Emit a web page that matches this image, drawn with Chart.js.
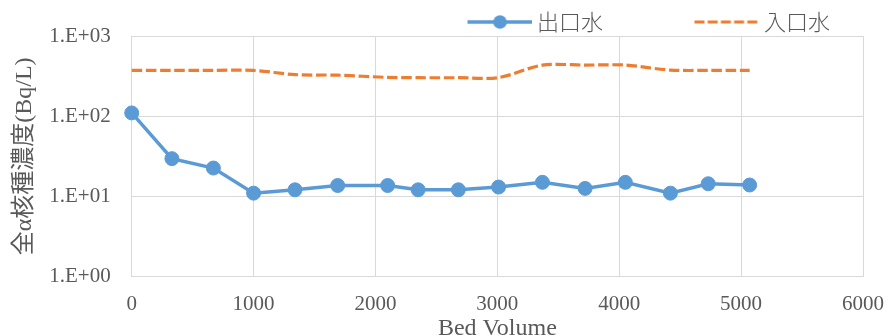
<!DOCTYPE html>
<html>
<head>
<meta charset="utf-8">
<style>
  html, body { margin: 0; padding: 0; background: #ffffff; }
  #wrap { width: 886px; height: 336px; }
</style>
<script src="https://cdn.jsdelivr.net/npm/chart.js@4/dist/chart.umd.min.js"></script>
</head>
<body>
<div id="wrap"><canvas id="c" width="886" height="336"></canvas></div>
<script>
// Bed volume passed through the column at each sampling
const bedVolume = [0, 330, 670, 1000, 1340, 1690, 2100, 2350, 2680, 3010, 3370, 3720, 4050, 4420, 4730, 5070];
// Gross alpha concentration (Bq/L)
const outletWater = [110, 29.6, 22.6, 11.0, 12.1, 13.7, 13.7, 12.1, 12.1, 13.1, 15.0, 12.6, 15.0, 11.0, 14.4, 13.9];
const inletWater  = [373, 373, 373, 373, 330, 325, 305, 302, 302, 303, 434, 434, 434, 376, 373, 373];

const seriesNames = ['出口水', '入口水'];
const xTickValues = [0, 1000, 2000, 3000, 4000, 5000, 6000];
const xTickLabels = ['0', '1000', '2000', '3000', '4000', '5000', '6000'];
const yTickValues = [1, 10, 100, 1000];
const yTickLabels = ['1.E+00', '1.E+01', '1.E+02', '1.E+03'];
const xTitle = 'Bed Volume';
const yTitle = '全α核種濃度(Bq/L)';

const BLUE = '#5B9BD5';
const ORANGE = '#ED7D31';
const TEXT = '#595959';
const GRID = '#D9D9D9';
const SERIF = '"Liberation Serif", "Noto Sans CJK JP", serif';

function toPoints(ys) {
  return bedVolume.map((x, i) => ({ x: x, y: ys[i] }));
}

// Legend symbols: a short line sample, drawn in the right half of the image
function legendSymbol(color, dashed) {
  const cv = document.createElement('canvas');
  cv.width = 130; cv.height = 18;
  const g = cv.getContext('2d');
  g.strokeStyle = color;
  g.lineWidth = dashed ? 3.2 : 3.5;
  if (dashed) g.setLineDash([10, 3.2]);
  g.beginPath();
  g.moveTo(65, 9); g.lineTo(130, 9);
  g.stroke();
  if (!dashed) {
    g.fillStyle = color;
    g.beginPath();
    g.arc(97.5, 9, 6.8, 0, Math.PI * 2);
    g.fill();
  }
  return cv;
}
const legendImages = [legendSymbol(BLUE, false), legendSymbol(ORANGE, true)];

new Chart(document.getElementById('c'), {
  type: 'line',
  data: {
    datasets: [
      {
        label: seriesNames[0],
        data: toPoints(outletWater),
        borderColor: BLUE,
        backgroundColor: BLUE,
        borderWidth: 3.5,
        pointRadius: 7,
        pointBorderWidth: 1,
        pointBackgroundColor: BLUE,
        pointBorderColor: BLUE,
        tension: 0,
        clip: false
      },
      {
        label: seriesNames[1],
        data: toPoints(inletWater),
        borderColor: ORANGE,
        backgroundColor: ORANGE,
        borderWidth: 3.2,
        borderDash: [10.5, 3.7],
        pointRadius: 0,
        tension: 0.3,
        clip: false
      }
    ]
  },
  options: {
    responsive: false,
    animation: false,
    layout: { padding: { top: -22, right: 23, bottom: 0, left: 0 } },
    plugins: {
      tooltip: { enabled: false },
      legend: {
        display: true,
        position: 'top',
        align: 'end',
        maxHeight: 58,
        labels: {
          usePointStyle: true,
          pointStyleWidth: 117,
          padding: 33,
          color: TEXT,
          font: { family: '"Noto Sans CJK JP", "Noto Sans", sans-serif', size: 22, weight: 300 },
          generateLabels(chart) {
            const items = Chart.defaults.plugins.legend.labels.generateLabels(chart);
            items.forEach((it, i) => { it.pointStyle = legendImages[i]; });
            return items;
          }
        }
      }
    },
    scales: {
      x: {
        type: 'linear',
        min: 0,
        max: 6000,
        afterBuildTicks(scale) { scale.ticks = xTickValues.map(v => ({ value: v })); },
        afterFit(scale) {
          scale.height = 59.3;
          scale.paddingLeft = 0;
          scale.paddingRight = 0;
        },
        grid: { color: GRID, lineWidth: 1, drawTicks: false },
        border: { color: GRID, width: 1 },
        ticks: {
          padding: 15,
          color: TEXT,
          font: { family: SERIF, size: 21 },
          maxRotation: 0,
          callback(value) {
            const i = xTickValues.indexOf(value);
            return i >= 0 ? xTickLabels[i] : '';
          }
        },
        title: {
          display: true,
          text: xTitle,
          color: TEXT,
          font: { family: SERIF, size: 24 },
          padding: { top: 0, bottom: -6.8 }
        }
      },
      y: {
        type: 'logarithmic',
        min: 1,
        max: 1000,
        afterBuildTicks(scale) { scale.ticks = yTickValues.map(v => ({ value: v })); },
        afterFit(scale) {
          scale.width = 131.7;
          scale.paddingTop = 0;
          scale.paddingBottom = 0;
        },
        grid: { color: GRID, lineWidth: 1, drawTicks: false },
        border: { color: GRID, width: 1 },
        ticks: {
          padding: 21,
          color: TEXT,
          font: { family: SERIF, size: 21 },
          callback(value) {
            const i = yTickValues.indexOf(value);
            return i >= 0 ? yTickLabels[i] : '';
          }
        },
        title: {
          display: true,
          text: yTitle,
          color: TEXT,
          font: { family: SERIF, size: 24 },
          padding: { top: 10.6, bottom: 0 }
        }
      }
    }
  }
});
</script>
</body>
</html>
